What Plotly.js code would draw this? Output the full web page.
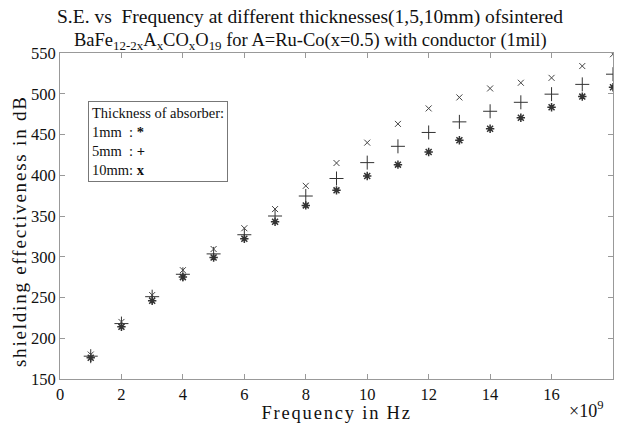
<!DOCTYPE html>
<html>
<head>
<meta charset="utf-8">
<script src="https://cdn.plot.ly/plotly-3.0.1.min.js"></script>
<style>
html,body{margin:0;padding:0;background:#fff;}
#chart{width:619px;height:423px;}
.annotation[data-index="4"] text, .annotation[data-index="5"] text { letter-spacing: 1.8px; }
</style>
</head>
<body>
<div id="chart"></div>
<script>
// Frequency in units of 1e9 Hz
const frequency = [1, 2, 3, 4, 5, 6, 7, 8, 9, 10, 11, 12, 13, 14, 15, 16, 17, 18];
const se1mm  = [176, 214, 246, 275, 299, 322, 343, 363, 381.5, 399, 413, 428.5, 443, 457, 470.5, 483.5, 496.5, 508];
const se5mm  = [178, 218, 251, 278.5, 303.5, 327, 350, 374.5, 396, 415.5, 435.5, 452.5, 465.5, 478.5, 489.5, 499.5, 511.5, 524];
const se10mm = [180, 220, 253, 283.5, 309.5, 335, 358.5, 387, 415, 440, 463, 482, 495.5, 506.5, 513.5, 519.5, 534, 548.5];
const xTicks = [0, 2, 4, 6, 8, 10, 12, 14, 16, 18];
const yTicks = [150, 200, 250, 300, 350, 400, 450, 500, 550];
const titleLine1 = 'S.E. vs  Frequency at different thicknesses(1,5,10mm) ofsintered';
const titleLine2 = 'BaFe<sub>12-2x</sub>A<sub>x</sub>CO<sub>x</sub>O<sub>19</sub> for A=Ru-Co(x=0.5) with conductor (1mil)';
const xTitle = 'Frequency in Hz';
const yTitle = 'shielding effectiveness in dB';

const font = "Liberation Serif, Times New Roman, serif";

const traces = [
  {x: frequency, y: se1mm, mode: 'markers', name: '1mm',
   marker: {symbol: 'asterisk-open', size: 7, color: '#333', line: {color: '#333', width: 1.5}}},
  {x: frequency, y: se5mm, mode: 'markers', name: '5mm',
   marker: {symbol: 'cross-thin-open', size: 10, color: '#333', line: {color: '#333', width: 1}}},
  {x: frequency, y: se10mm, mode: 'markers', name: '10mm',
   marker: {symbol: 'x-thin-open', size: 6, color: '#444', line: {color: '#444', width: 1}}}
];

const axisCommon = {
  showline: true, linecolor: '#999', linewidth: 1, mirror: 'ticks',
  ticks: 'inside', ticklen: 5, tickcolor: '#999', tickwidth: 1,
  showgrid: false, zeroline: false,
  tickfont: {family: font, size: 16.5, color: '#111'}
};

// plot area: x 60..613, y 53..379
const px = v => (v - 60) / 553;
const py = v => (379 - v) / 326;

const layout = {
  width: 619, height: 423,
  margin: {l: 60, r: 6, t: 53, b: 44},
  paper_bgcolor: '#fff', plot_bgcolor: '#fff',
  showlegend: false,
  font: {family: font, color: '#111'},
  xaxis: Object.assign({}, axisCommon, {
    range: [0, 18], tickvals: xTicks, ticktext: xTicks.map(String)
  }),
  yaxis: Object.assign({}, axisCommon, {
    range: [150, 550], tickvals: yTicks, ticktext: yTicks.map(String)
  }),
  annotations: [
    {xref: 'paper', yref: 'paper', x: px(310), y: py(17), xanchor: 'center', yanchor: 'middle',
     showarrow: false, text: titleLine1, font: {family: font, size: 19.5, color: '#111'}},
    {xref: 'paper', yref: 'paper', x: px(310), y: py(42), xanchor: 'center', yanchor: 'middle',
     showarrow: false, text: titleLine2, font: {family: font, size: 18.5, color: '#111'}},
    {xref: 'paper', yref: 'paper', x: 0.05, y: py(101), xanchor: 'left', yanchor: 'top',
     align: 'left', showarrow: false, bgcolor: '#fff', bordercolor: '#777', borderwidth: 1, borderpad: 3,
     text: 'Thickness of absorber:<br>1mm  : <b>*</b><br>5mm  : <b>+</b><br>10mm: <b>x</b>',
     font: {family: font, size: 14.5, color: '#111'}},
    {xref: 'paper', yref: 'paper', x: px(605), y: py(409), xanchor: 'right', yanchor: 'middle',
     showarrow: false, text: '×10<sup>9</sup>', font: {family: font, size: 18, color: '#111'}},
    {xref: 'paper', yref: 'paper', x: px(336), y: py(413), xanchor: 'center', yanchor: 'middle',
     showarrow: false, text: xTitle, font: {family: font, size: 18.5, color: '#111'}},
    {xref: 'paper', yref: 'paper', x: px(19), y: py(231), xanchor: 'center', yanchor: 'middle',
     textangle: -90, showarrow: false, text: yTitle, font: {family: font, size: 19, color: '#111'}}
  ]
};

Plotly.newPlot('chart', traces, layout, {displayModeBar: false, staticPlot: true});
</script>
</body>
</html>
